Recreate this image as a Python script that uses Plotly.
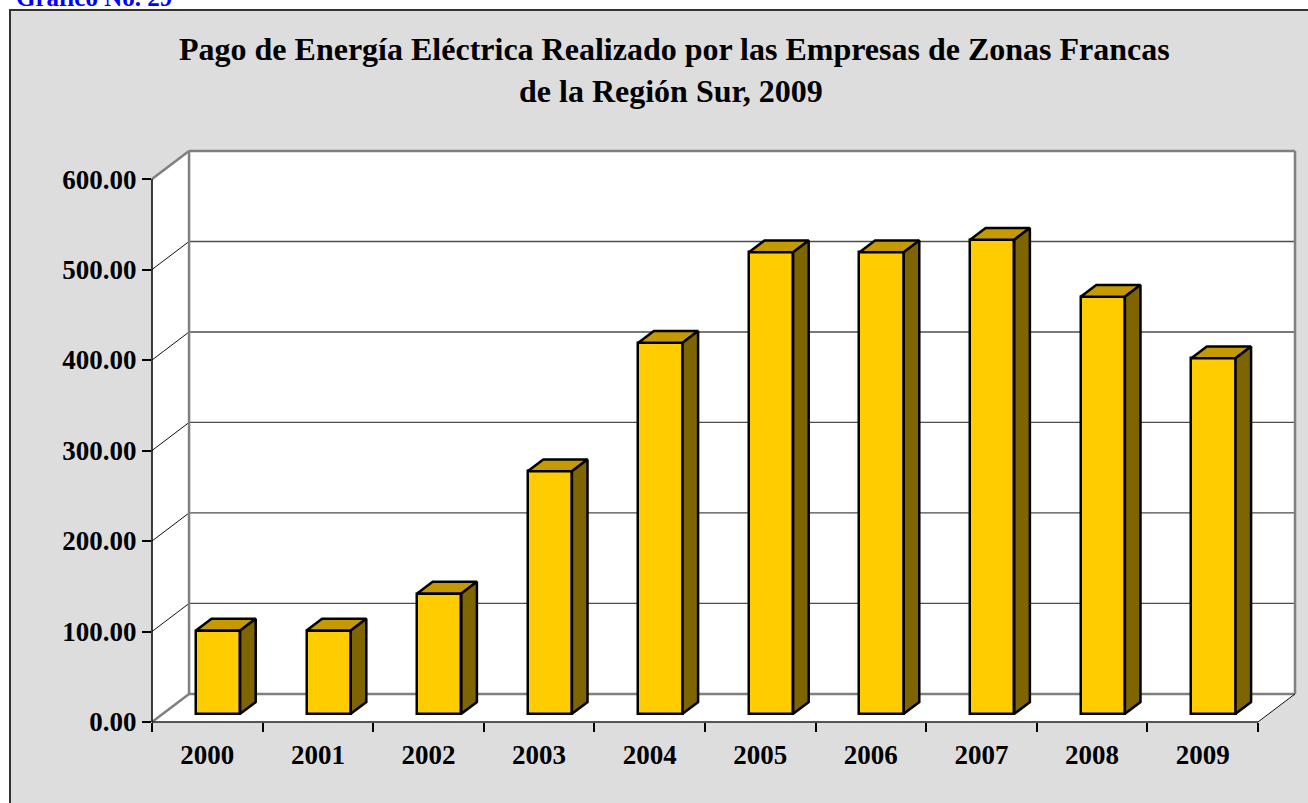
import plotly.graph_objects as go

# ---------------- data ----------------
YEARS = ["2000", "2001", "2002", "2003", "2004", "2005", "2006", "2007", "2008", "2009"]
VALUES = [92, 92, 133, 268, 410, 510, 510, 524, 461, 393]
Y_TICKS = [0, 100, 200, 300, 400, 500, 600]
Y_MAX = 600
TITLE_1 = "Pago de Energía Eléctrica Realizado por las Empresas de Zonas Francas"
TITLE_2 = "de la Región Sur, 2009"
CAPTION = "Gráfico No. 29"

# ---------------- layout constants ----------------
W, H = 1308, 803
ML, MR, MT, MB = 152, 13, 151, 81
DX, DY = 0.335, 31.0          # 3-D depth offset (category units, value units)
BAR_W = 0.4
D0, D1 = 0.29, 0.71           # bar depth span (fraction of floor depth)
FONT = "Liberation Serif"
FRONT, TOP, SIDE = "#FFCC00", "#C49A00", "#7F6500"

n = len(YEARS)
X0, X1 = -0.5, n - 0.5 + DX
Y0, Y1 = 0.0, Y_MAX + DY


def px(x):  # data x -> paper
    return (x - X0) / (X1 - X0)


def py(y):  # data y -> paper
    return (y - Y0) / (Y1 - Y0)


def ppx(p):  # pixel x -> paper
    return (p - ML) / (W - ML - MR)


def ppy(p):  # pixel y -> paper
    return (H - MB - p) / (H - MT - MB)


def path(pts):
    return "M " + " L ".join(f"{px(a):.5f},{py(b):.5f}" for a, b in pts) + " Z"


def seg(a, b, color, width):
    return dict(type="line", xref="paper", yref="paper", layer="below",
                x0=px(a[0]), y0=py(a[1]), x1=px(b[0]), y1=py(b[1]),
                line=dict(color=color, width=width))


shapes = []
# background panel with border
shapes.append(dict(type="rect", xref="paper", yref="paper", layer="below",
                   x0=ppx(10), x1=ppx(1330), y0=ppy(830), y1=ppy(10),
                   fillcolor="#dddddd", line=dict(color="#333333", width=2)))
# walls
bx = X0 + DX
shapes.append(dict(type="path", xref="paper", yref="paper", layer="below",
                   path=path([(bx, DY), (X1, DY), (X1, Y_MAX + DY), (bx, Y_MAX + DY)]),
                   fillcolor="white", line=dict(width=0)))
shapes.append(dict(type="path", xref="paper", yref="paper", layer="below",
                   path=path([(X0, 0), (X0, Y_MAX), (bx, Y_MAX + DY), (bx, DY)]),
                   fillcolor="white", line=dict(width=0)))
shapes.append(dict(type="path", xref="paper", yref="paper", layer="below",
                   path=path([(X0, 0), (n - 0.5, 0), (X1, DY), (bx, DY)]),
                   fillcolor="white", line=dict(width=0)))
# gridlines
for v in Y_TICKS[1:-1]:
    shapes.append(seg((bx, v + DY), (X1, v + DY), "#4d4d4d", 1.3))
    shapes.append(seg((X0, v), (bx, v + DY), "#111111", 1))
# gray wall edges
G = "#808080"
shapes.append(seg((bx, DY), (bx, Y_MAX + DY), G, 2.5))
shapes.append(seg((bx, Y_MAX + DY), (X1, Y_MAX + DY), G, 2.5))
shapes.append(seg((X1, DY), (X1, Y_MAX + DY), G, 2.5))
shapes.append(seg((bx, DY), (X1, DY), G, 2.5))
shapes.append(seg((X0, Y_MAX), (bx, Y_MAX + DY), G, 2.5))
shapes.append(seg((X0, 0), (bx, DY), G, 2.5))
shapes.append(seg((n - 0.5, 0), (X1, DY), "#111111", 1))
# front axes
shapes.append(seg((X0, 0), (X0, Y_MAX), "black", 1.5))
shapes.append(seg((X0, 0), (n - 0.5, 0), "#222222", 1.5))

fig = go.Figure()

# front faces of the bars
fig.add_trace(go.Bar(
    x=[i + D0 * DX for i in range(n)], y=VALUES, base=D0 * DY, width=BAR_W,
    marker=dict(color=FRONT, line=dict(color="black", width=2.5)),
    hoverinfo="skip", showlegend=False))

# top and side faces
tx, ty, sx, sy = [], [], [], []
for i, v in enumerate(VALUES):
    xl, xr = i - BAR_W / 2, i + BAR_W / 2
    tx += [xl + D0 * DX, xr + D0 * DX, xr + D1 * DX, xl + D1 * DX, xl + D0 * DX, None]
    ty += [v + D0 * DY, v + D0 * DY, v + D1 * DY, v + D1 * DY, v + D0 * DY, None]
    sx += [xr + D0 * DX, xr + D1 * DX, xr + D1 * DX, xr + D0 * DX, xr + D0 * DX, None]
    sy += [D0 * DY, D1 * DY, v + D1 * DY, v + D0 * DY, D0 * DY, None]
fig.add_trace(go.Scatter(x=tx, y=ty, mode="lines", fill="toself", fillcolor=TOP,
                         line=dict(color="black", width=2.5), hoverinfo="skip",
                         showlegend=False))
fig.add_trace(go.Scatter(x=sx, y=sy, mode="lines", fill="toself", fillcolor=SIDE,
                         line=dict(color="black", width=2.5), hoverinfo="skip",
                         showlegend=False))

tickfont = dict(family=FONT, size=27, color="black", weight="bold")
fig.update_layout(
    width=W, height=H,
    margin=dict(l=ML, r=MR, t=MT, b=MB, pad=0),
    paper_bgcolor="white", plot_bgcolor="rgba(0,0,0,0)",
    shapes=shapes,
    xaxis=dict(range=[X0, X1], showgrid=False, zeroline=False, showline=False,
               tickmode="array", tickvals=list(range(n)), ticktext=YEARS,
               ticks="", tickfont=tickfont, ticklabelstandoff=14,
               minor=dict(tickmode="array", tickvals=[k - 0.5 for k in range(n + 1)],
                          ticks="outside", ticklen=9, tickwidth=1.5, tickcolor="black",
                          showgrid=False)),
    yaxis=dict(range=[Y0, Y1], showgrid=False, zeroline=False, showline=False,
               tickmode="array", tickvals=Y_TICKS, tickformat=".2f",
               ticks="outside", ticklen=9, tickwidth=1.5, tickcolor="black",
               tickfont=tickfont),
    annotations=[
        dict(text=f"<b>{TITLE_1}</b>", xref="paper", yref="paper", x=ppx(674), y=ppy(49),
             xanchor="center", yanchor="middle", showarrow=False,
             font=dict(family=FONT, size=32, color="black")),
        dict(text=f"<b>{TITLE_2}</b>", xref="paper", yref="paper", x=ppx(671), y=ppy(91),
             xanchor="center", yanchor="middle", showarrow=False,
             font=dict(family=FONT, size=32, color="black")),
        dict(text=f"<b>{CAPTION}</b>", xref="paper", yref="paper", x=ppx(14), y=ppy(-2),
             xanchor="left", yanchor="middle", showarrow=False,
             font=dict(family=FONT, size=25, color="#0000ff")),
    ],
    bargap=0,
)

fig.write_html("out.html", config={"displayModeBar": False},
               post_script="document.body.style.margin='0';"
                           "document.body.style.overflow='hidden';")
